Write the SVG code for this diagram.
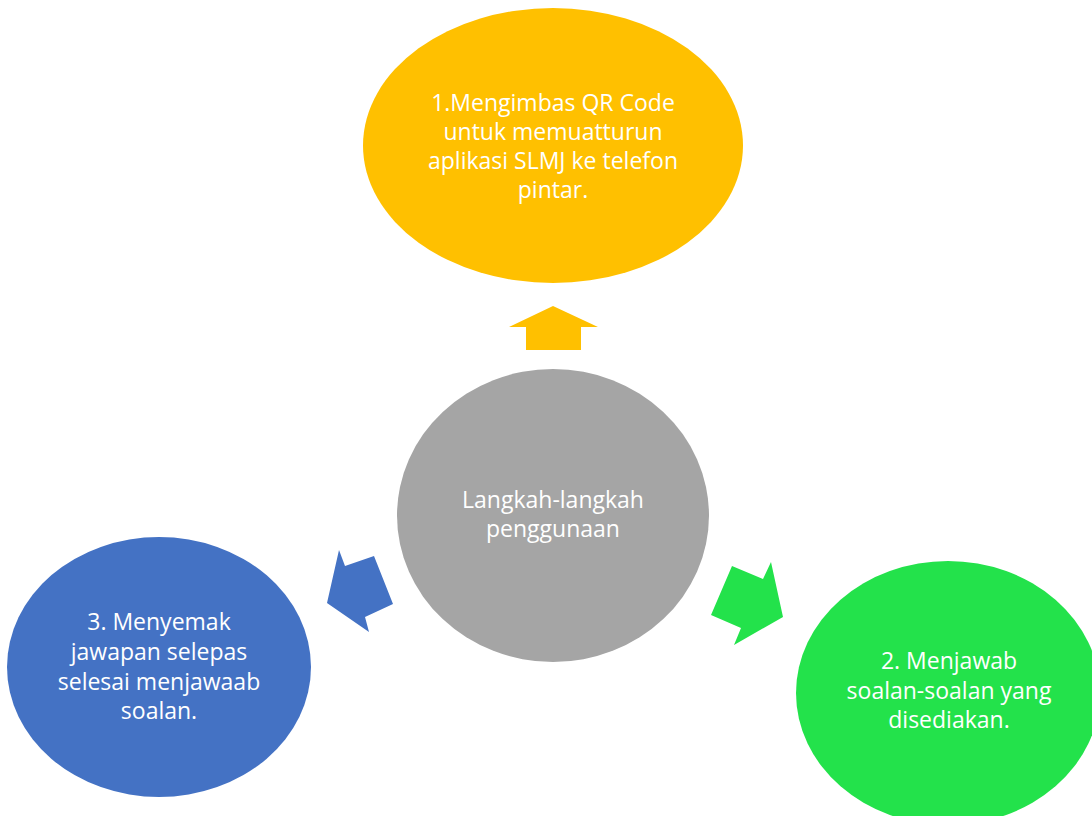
<svg xmlns="http://www.w3.org/2000/svg" width="1092" height="816" viewBox="0 0 1092 816">
<style>
.t{font-family:"Open Sans","Liberation Sans",sans-serif;font-size:23px;fill:#ffffff;text-anchor:middle}
</style>
<rect width="1092" height="816" fill="#ffffff"/>
<g id="connectors">
<polygon id="arrow-up" points="553,306 598,327 581,327 581,350 526,350 526,327 509,327" fill="#FFC000"/>
<polygon id="arrow-right" points="732,566 763,579 771,562 783,617 734,645 741,628 711,615" fill="#23E24B"/>
<polygon id="arrow-left" points="339,550 345,566 374,556 393,604 365,617 369,632 327,603" fill="#4472C4"/>
</g>
<g id="node-1">
<ellipse cx="553" cy="145.5" rx="190" ry="137.5" fill="#FFC000"/>
<text class="t" x="553" y="111">1.Mengimbas QR Code</text>
<text class="t" x="553" y="140">untuk memuatturun</text>
<text class="t" x="553" y="169">aplikasi SLMJ ke telefon</text>
<text class="t" x="553" y="198">pintar.</text>
</g>
<g id="node-center">
<ellipse cx="553" cy="515.5" rx="156" ry="146.5" fill="#A5A5A5"/>
<text class="t" x="553" y="508">Langkah-langkah</text>
<text class="t" x="553" y="537">penggunaan</text>
</g>
<g id="node-3">
<ellipse cx="159" cy="667" rx="152" ry="130" fill="#4472C4"/>
<text class="t" x="159" y="630">3. Menyemak</text>
<text class="t" x="159" y="660">jawapan selepas</text>
<text class="t" x="159" y="690">selesai menjawaab</text>
<text class="t" x="159" y="719">soalan.</text>
</g>
<g id="node-2">
<ellipse cx="948" cy="693" rx="152" ry="132" fill="#23E24B"/>
<text class="t" x="949" y="669">2. Menjawab</text>
<text class="t" x="949" y="699">soalan-soalan yang</text>
<text class="t" x="949" y="728">disediakan.</text>
</g>
</svg>
